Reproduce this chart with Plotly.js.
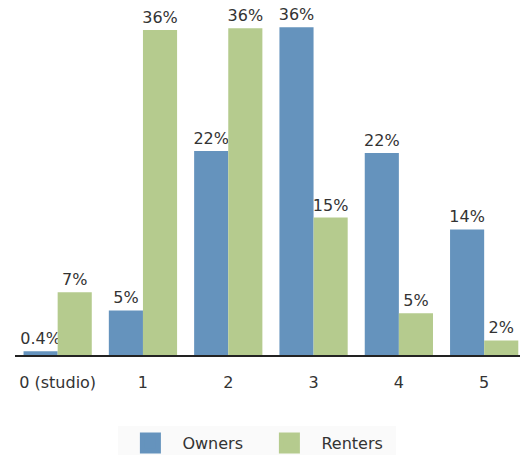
<!DOCTYPE html>
<html>
<head>
<meta charset="utf-8">
<script src="https://cdn.plot.ly/plotly-3.0.1.min.js"></script>
<style>html,body{margin:0;padding:0;background:#fff;}#chart{width:520px;height:455px;}</style>
</head>
<body>
<div id="chart"></div>
<script>
var categories = ["0 (studio)", "1", "2", "3", "4", "5"];
var ownersValues = [0.4, 4.9, 22.4, 36.0, 22.2, 13.8];
var rentersValues = [6.9, 35.7, 35.9, 15.1, 4.6, 1.6];
var ownersLabels = ["0.4%", "5%", "22%", "36%", "22%", "14%"];
var rentersLabels = ["7%", "36%", "36%", "15%", "5%", "2%"];
var seriesNames = ["Owners", "Renters"];
var colors = ["#6593bd", "#b5cb8e"];

var font = "DejaVu Sans, Verdana, sans-serif";
function barTrace(name, vals, labels, color) {
  return {
    type: "bar", name: name, x: categories, y: vals,
    text: labels, textposition: "outside", constraintext: "none", cliponaxis: false,
    textfont: {family: font, size: 16, color: "#333"},
    marker: {color: color}, showlegend: false, hoverinfo: "skip"
  };
}
function legendTrace(name, color) {
  return {
    type: "scatter", mode: "markers", name: name, x: [null], y: [null],
    marker: {symbol: "square", size: 16, color: color, line: {color: color, width: 5}},
    showlegend: true
  };
}
var data = [
  barTrace(seriesNames[0], ownersValues, ownersLabels, colors[0]),
  barTrace(seriesNames[1], rentersValues, rentersLabels, colors[1]),
  legendTrace(seriesNames[0], colors[0]),
  legendTrace(seriesNames[1], colors[1])
];
var layout = {
  width: 520, height: 455,
  margin: {l: 15, r: 0, t: 0, b: 100, pad: 0, autoexpand: false},
  paper_bgcolor: "#ffffff", plot_bgcolor: "#ffffff",
  font: {family: font, size: 16, color: "#333"},
  barmode: "group", bargap: 0.2, bargroupgap: 0,
  xaxis: {
    type: "category", range: [-0.5, 5.42], showline: true, linecolor: "#222", linewidth: 2,
    ticks: "", showgrid: false, zeroline: false, ticklabelstandoff: 12, automargin: false,
    tickfont: {family: font, size: 16, color: "#333"}
  },
  yaxis: {visible: false, range: [0, 39], showgrid: false, zeroline: false},
  showlegend: true,
  legend: {
    orientation: "h", x: 0.48, xanchor: "center", yref: "container", y: 0.026, yanchor: "middle",
    bgcolor: "#fafafa", font: {family: font, size: 16, color: "#333"},
    itemwidth: 54, itemsizing: "trace", entrywidth: 70
  }
};
Plotly.newPlot("chart", data, layout, {displayModeBar: false, staticPlot: true});
</script>
</body>
</html>
